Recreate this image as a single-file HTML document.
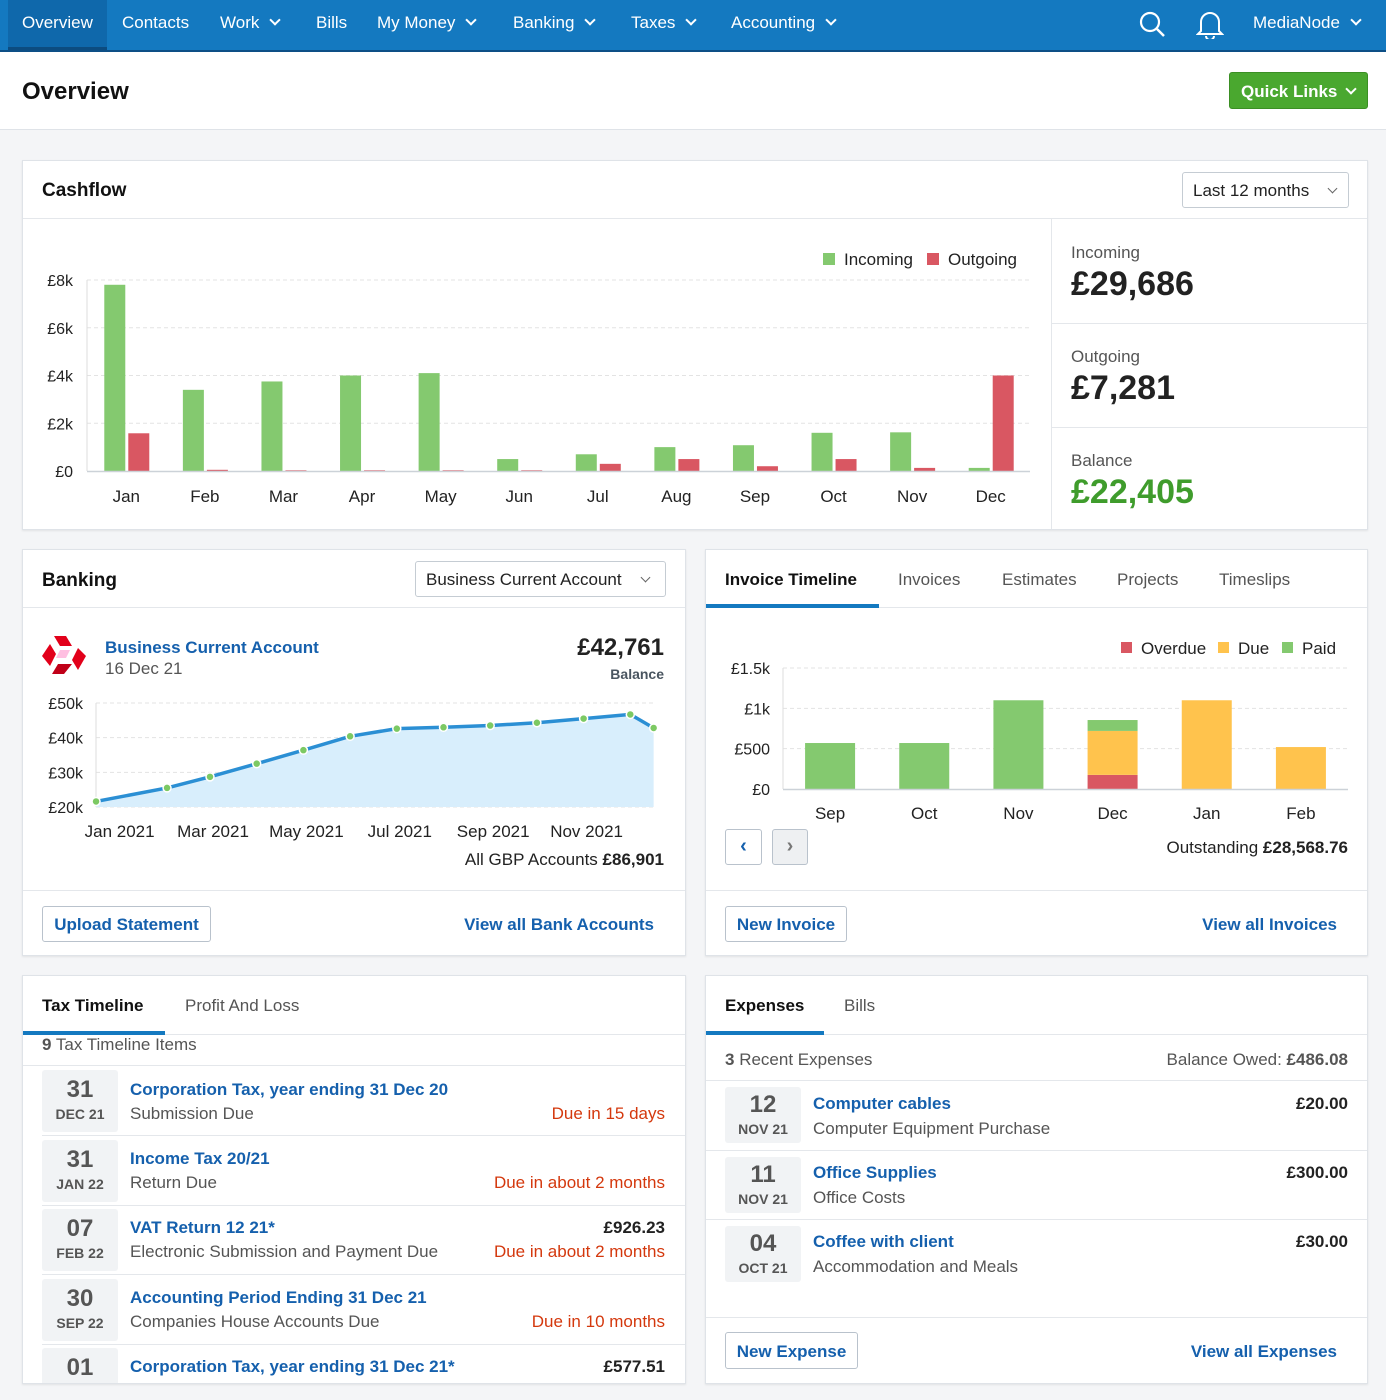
<!DOCTYPE html>
<html><head><meta charset="utf-8">
<style>
*{box-sizing:border-box;margin:0;padding:0}
body{width:1386px;height:1400px;overflow:hidden;background:#f4f5f7;font-family:"Liberation Sans",Arial,sans-serif;color:#222;position:relative}
.a{position:absolute;white-space:nowrap}
.card{position:absolute;background:#fff;border:1px solid #dfe3e8;box-shadow:0 1px 2px rgba(0,0,0,.08);overflow:hidden}
.nav{position:absolute;left:0;top:0;width:1386px;height:52px;background:#1479c0;border-bottom:2px solid #0d4f86}
.nav .i{position:absolute;top:13px;color:#fff;font-size:17px}
.chev{display:inline-block;width:8px;height:8px;border-right:2px solid currentColor;border-bottom:2px solid currentColor;transform:rotate(45deg);margin-left:12px;position:relative;top:-4px}
.t{font-size:17px}
.b{font-weight:bold}
.blue{color:#1560ad}
.grey{color:#555}
.red{color:#d4380d}
.btn{position:absolute;border:1px solid #b9c2cc;border-radius:3px;background:#fff;color:#1560ad;font-weight:bold;font-size:17px;text-align:center}
.line{position:absolute;height:1px;background:#e4e7eb}
.datebox{position:absolute;width:76px;background:#f1f3f5;border-radius:3px;text-align:center;color:#555}
.datebox .d{font-size:24px;font-weight:bold;margin-top:6px}
.datebox .m{font-size:14px;font-weight:bold;margin-top:2px}
</style></head><body>

<div class="nav">
 <div class="a" style="left:8px;top:0;width:99px;height:50px;background:#0f68ab;border-bottom:3px solid #0c4c80"></div>
 <div class="i" style="left:22px">Overview</div>
 <div class="i" style="left:122px">Contacts</div>
 <div class="i" style="left:220px">Work<span class="chev"></span></div>
 <div class="i" style="left:316px">Bills</div>
 <div class="i" style="left:377px">My Money<span class="chev"></span></div>
 <div class="i" style="left:513px">Banking<span class="chev"></span></div>
 <div class="i" style="left:631px">Taxes<span class="chev"></span></div>
 <div class="i" style="left:731px">Accounting<span class="chev"></span></div>
 <svg class="a" style="left:1137px;top:9px" width="30" height="30"><circle cx="13" cy="13" r="9" fill="none" stroke="#fff" stroke-width="2.2"/><line x1="20" y1="20" x2="27" y2="27" stroke="#fff" stroke-width="2.5"/></svg>
 <svg class="a" style="left:1196px;top:9px" width="28" height="30"><path d="M5 22 L5 13 A9 9 0 0 1 23 13 L23 22 L26 25 L2 25 Z" fill="none" stroke="#fff" stroke-width="2"/><path d="M10 27 A4 4 0 0 0 18 27" fill="none" stroke="#fff" stroke-width="2"/></svg>
 <div class="i" style="left:1253px">MediaNode<span class="chev"></span></div>
</div>

<div class="a" style="left:0;top:52px;width:1386px;height:78px;background:#fff;border-bottom:1px solid #dfe3e8"></div>
<div class="a b" style="left:22px;top:78px;font-size:24px;color:#111">Overview</div>
<div class="a b" style="left:1229px;top:72px;width:139px;height:37px;background:#4aa82f;border:1px solid #3b8f24;border-radius:3px;color:#fff;font-size:17px;padding:9px 0 0 11px">Quick Links<span class="chev" style="margin-left:10px"></span></div>

<!-- Cashflow -->
<div class="card" style="left:22px;top:160px;width:1346px;height:370px">
 <div class="a b" style="left:19px;top:19px;font-size:19px;color:#111">Cashflow</div>
 <div class="a" style="left:1159px;top:11px;width:167px;height:36px;border:1px solid #c5ccd3;border-radius:3px;font-size:17px;padding:8px 0 0 10px;color:#222">Last 12 months<span class="chev" style="margin-left:20px;width:7px;height:7px;border-width:1.5px;color:#666"></span></div>
 <div class="line" style="left:0;top:57px;width:1346px"></div>
 <div class="a" style="left:1028px;top:58px;width:1px;height:312px;background:#e4e7eb"></div>
 <div class="line" style="left:1028px;top:162px;width:318px"></div>
 <div class="line" style="left:1028px;top:266px;width:318px"></div>
 <div class="a t grey" style="left:1048px;top:82px">Incoming</div>
 <div class="a b" style="left:1048px;top:104px;font-size:34px;color:#222">£29,686</div>
 <div class="a t grey" style="left:1048px;top:186px">Outgoing</div>
 <div class="a b" style="left:1048px;top:208px;font-size:34px;color:#222">£7,281</div>
 <div class="a t grey" style="left:1048px;top:290px">Balance</div>
 <div class="a b" style="left:1048px;top:312px;font-size:34px;color:#3f9c2c">£22,405</div>
</div>
<svg class="a" id="cf" style="left:0;top:0" width="1050" height="530"></svg>

<!-- Banking -->
<div class="card" style="left:22px;top:549px;width:664px;height:407px">
 <div class="a b" style="left:19px;top:20px;font-size:19px;color:#111">Banking</div>
 <div class="a" style="left:392px;top:11px;width:251px;height:36px;border:1px solid #c5ccd3;border-radius:3px;font-size:17px;padding:8px 0 0 10px">Business Current Account<span class="chev" style="margin-left:20px;width:7px;height:7px;border-width:1.5px;color:#666"></span></div>
 <div class="line" style="left:0;top:57px;width:664px"></div>
 <svg class="a" style="left:19px;top:86px" width="44" height="38"><polygon points="12,0 24,0 30,10 18,10" fill="#e2001a"/><polygon points="0,20 8,8 14,18 8,30" fill="#e2001a"/><polygon points="22,38 10,38 16,28 30,28" fill="#c00018"/><polygon points="44,20 36,34 30,24 36,12" fill="#e2001a"/><polygon points="18,14 28,14 24,22 14,22" fill="#f08" opacity=".25"/></svg>
 <div class="a t b blue" style="left:82px;top:88px">Business Current Account</div>
 <div class="a t grey" style="left:82px;top:109px">16 Dec 21</div>
 <div class="a b" style="right:21px;top:84px;font-size:24px;color:#222">£42,761</div>
 <div class="a b" style="right:21px;top:116px;font-size:14px;color:#4a5560">Balance</div>
 <div class="a t" style="right:21px;top:300px">All GBP Accounts <b>£86,901</b></div>
 <div class="line" style="left:0;top:340px;width:664px"></div>
 <div class="btn" style="left:19px;top:356px;width:169px;height:36px;padding-top:8px">Upload Statement</div>
 <div class="a t b blue" style="right:31px;top:365px">View all Bank Accounts</div>
</div>
<svg class="a" id="bk" style="left:0;top:0" width="700" height="860"></svg>

<!-- Invoice -->
<div class="card" style="left:705px;top:549px;width:663px;height:407px">
 <div class="a t b" style="left:19px;top:20px;color:#111">Invoice Timeline</div>
 <div class="a t grey" style="left:192px;top:20px">Invoices</div>
 <div class="a t grey" style="left:296px;top:20px">Estimates</div>
 <div class="a t grey" style="left:411px;top:20px">Projects</div>
 <div class="a t grey" style="left:513px;top:20px">Timeslips</div>
 <div class="line" style="left:0;top:57px;width:663px"></div>
 <div class="a" style="left:0;top:54px;width:173px;height:4px;background:#1479c0"></div>
 <div class="btn" style="left:19px;top:279px;width:37px;height:36px;font-size:20px;padding-top:5px">‹</div>
 <div class="btn" style="left:66px;top:279px;width:36px;height:36px;font-size:20px;padding-top:5px;background:#eef0f2;color:#777">›</div>
 <div class="a t" style="right:19px;top:288px">Outstanding <b>£28,568.76</b></div>
 <div class="line" style="left:0;top:340px;width:663px"></div>
 <div class="btn" style="left:19px;top:356px;width:122px;height:36px;padding-top:8px">New Invoice</div>
 <div class="a t b blue" style="right:30px;top:365px">View all Invoices</div>
</div>
<svg class="a" id="iv" style="left:0;top:0" width="1386" height="860"></svg>

<!-- Tax timeline -->
<div class="card" style="left:22px;top:975px;width:664px;height:409px">
 <div class="a t b" style="left:19px;top:20px;color:#111">Tax Timeline</div>
 <div class="a t grey" style="left:162px;top:20px">Profit And Loss</div>
 <div class="line" style="left:0;top:58px;width:664px"></div>
 <div class="a" style="left:0;top:55px;width:142px;height:4px;background:#1479c0"></div>
 <div class="a t grey" style="left:19px;top:59px"><b>9</b> Tax Timeline Items</div>
 <div class="line" style="left:0;top:89px;width:664px"></div>

 <div class="datebox" style="left:19px;top:94px;height:62px"><div class="d">31</div><div class="m">DEC 21</div></div>
 <div class="a t b blue" style="left:107px;top:104px">Corporation Tax, year ending 31 Dec 20</div>
 <div class="a t grey" style="left:107px;top:128px">Submission Due</div>
 <div class="a t red" style="right:20px;top:128px">Due in 15 days</div>
 <div class="line" style="left:19px;top:159px;width:645px"></div>

 <div class="datebox" style="left:19px;top:164px;height:62px"><div class="d">31</div><div class="m">JAN 22</div></div>
 <div class="a t b blue" style="left:107px;top:173px">Income Tax 20/21</div>
 <div class="a t grey" style="left:107px;top:197px">Return Due</div>
 <div class="a t red" style="right:20px;top:197px">Due in about 2 months</div>
 <div class="line" style="left:19px;top:229px;width:645px"></div>

 <div class="datebox" style="left:19px;top:233px;height:62px"><div class="d">07</div><div class="m">FEB 22</div></div>
 <div class="a t b blue" style="left:107px;top:242px">VAT Return 12 21*</div>
 <div class="a t b" style="right:20px;top:242px">£926.23</div>
 <div class="a t grey" style="left:107px;top:266px">Electronic Submission and Payment Due</div>
 <div class="a t red" style="right:20px;top:266px">Due in about 2 months</div>
 <div class="line" style="left:19px;top:298px;width:645px"></div>

 <div class="datebox" style="left:19px;top:303px;height:62px"><div class="d">30</div><div class="m">SEP 22</div></div>
 <div class="a t b blue" style="left:107px;top:312px">Accounting Period Ending 31 Dec 21</div>
 <div class="a t grey" style="left:107px;top:336px">Companies House Accounts Due</div>
 <div class="a t red" style="right:20px;top:336px">Due in 10 months</div>
 <div class="line" style="left:19px;top:368px;width:645px"></div>

 <div class="datebox" style="left:19px;top:372px;height:62px"><div class="d">01</div></div>
 <div class="a t b blue" style="left:107px;top:381px">Corporation Tax, year ending 31 Dec 21*</div>
 <div class="a t b" style="right:20px;top:381px">£577.51</div>
</div>

<!-- Expenses -->
<div class="card" style="left:705px;top:975px;width:663px;height:409px">
 <div class="a t b" style="left:19px;top:20px;color:#111">Expenses</div>
 <div class="a t grey" style="left:138px;top:20px">Bills</div>
 <div class="line" style="left:0;top:58px;width:663px"></div>
 <div class="a" style="left:0;top:55px;width:118px;height:4px;background:#1479c0"></div>
 <div class="a t grey" style="left:19px;top:74px"><b>3</b> Recent Expenses</div>
 <div class="a t grey" style="right:19px;top:74px">Balance Owed: <b>£486.08</b></div>
 <div class="line" style="left:0;top:104px;width:663px"></div>

 <div class="datebox" style="left:19px;top:111px;height:56px"><div class="d" style="margin-top:4px">12</div><div class="m">NOV 21</div></div>
 <div class="a t b blue" style="left:107px;top:118px">Computer cables</div>
 <div class="a t b" style="right:19px;top:118px">£20.00</div>
 <div class="a t grey" style="left:107px;top:143px">Computer Equipment Purchase</div>
 <div class="line" style="left:0;top:174px;width:663px"></div>

 <div class="datebox" style="left:19px;top:181px;height:56px"><div class="d" style="margin-top:4px">11</div><div class="m">NOV 21</div></div>
 <div class="a t b blue" style="left:107px;top:187px">Office Supplies</div>
 <div class="a t b" style="right:19px;top:187px">£300.00</div>
 <div class="a t grey" style="left:107px;top:212px">Office Costs</div>
 <div class="line" style="left:0;top:243px;width:663px"></div>

 <div class="datebox" style="left:19px;top:250px;height:56px"><div class="d" style="margin-top:4px">04</div><div class="m">OCT 21</div></div>
 <div class="a t b blue" style="left:107px;top:256px">Coffee with client</div>
 <div class="a t b" style="right:19px;top:256px">£30.00</div>
 <div class="a t grey" style="left:107px;top:281px">Accommodation and Meals</div>
 <div class="line" style="left:0;top:341px;width:663px"></div>

 <div class="btn" style="left:19px;top:356px;width:133px;height:37px;padding-top:9px">New Expense</div>
 <div class="a t b blue" style="right:30px;top:366px">View all Expenses</div>
</div>

<script>
// ---- Cashflow data ----
const cfMonths = ['Jan','Feb','Mar','Apr','May','Jun','Jul','Aug','Sep','Oct','Nov','Dec'];
const cfIncoming = [7800,3400,3750,4000,4100,500,700,1000,1080,1600,1620,130];
const cfOutgoing = [1580,50,30,30,30,30,300,500,200,500,130,4000];
const cfTicks = [0,2000,4000,6000,8000];
const cfTickLabels = ['£0','£2k','£4k','£6k','£8k'];

// ---- Banking balance data ----
const bkMonthPos = [-0.44,1.08,2,3,4,5,6,7,8,9,10,11,11.5];
const bkBalance = [21600,25500,28700,32500,36400,40400,42600,43000,43500,44300,45500,46700,42800];
const bkTicks = [20000,30000,40000,50000];
const bkTickLabels = ['£20k','£30k','£40k','£50k'];
const bkXLabelPos = [0,2,4,6,8,10];
const bkXLabels = ['Jan 2021','Mar 2021','May 2021','Jul 2021','Sep 2021','Nov 2021'];

// ---- Invoice timeline data ----
const ivMonths = ['Sep','Oct','Nov','Dec','Jan','Feb'];
const ivOverdue = [0,0,0,175,0,0];
const ivDue = [0,0,0,545,1100,520];
const ivPaid = [570,570,1100,135,0,0];
const ivTicks = [0,500,1000,1500];
const ivTickLabels = ['£0','£500','£1k','£1.5k'];

const NS='http://www.w3.org/2000/svg';
function mk(svg,tag,attrs,text){const e=document.createElementNS(NS,tag);for(const k in attrs)e.setAttribute(k,attrs[k]);if(text!==undefined)e.textContent=text;svg.appendChild(e);return e;}
const F='Liberation Sans, Arial, sans-serif';

// Cashflow chart
(function(){
 const svg=document.getElementById('cf');
 const x0=87,x1=1030,y0=471,yTop=280;
 const ys=v=>y0-(v/8000)*(y0-yTop);
 const step=(x1-x0)/cfMonths.length;
 const xc=i=>x0+step*(i+0.5);
 cfTicks.forEach((t,i)=>{
  if(t>0){const g=mk(svg,'line',{x1:x0,x2:x1,y1:ys(t),y2:ys(t),stroke:'#e3e3e3','stroke-dasharray':'4,3'});
  
  }
  const l=mk(svg,'text',{x:73,y:ys(t)+6,'text-anchor':'end','font-size':16,'font-family':F,fill:'#222'},cfTickLabels[i]);
  
  
 });
 mk(svg,'line',{x1:x0,x2:x0,y1:yTop,y2:y0,stroke:'#ddd'});
 cfMonths.forEach((m,i)=>{
  const c=xc(i);
  const g=mk(svg,'rect',{x:c-22,y:ys(cfIncoming[i]),width:21,height:y0-ys(cfIncoming[i]),fill:'#84c96f'});
  
  
  const r=mk(svg,'rect',{x:c+2,y:ys(cfOutgoing[i]),width:21,height:y0-ys(cfOutgoing[i]),fill:'#d95762'});
  
  
  const t=mk(svg,'text',{x:c,y:502,'text-anchor':'middle','font-size':17,'font-family':F,fill:'#222'},m);
  
  
 });
 mk(svg,'line',{x1:x0,x2:x1,y1:y0+0.5,y2:y0+0.5,stroke:'#ccd2d8','stroke-width':1.5});
 mk(svg,'rect',{x:823,y:253,width:12,height:12,fill:'#84c96f'});
 const l1=mk(svg,'text',{x:844,y:265,'font-size':17,'font-family':F,fill:'#222'},'Incoming');
 
 
 mk(svg,'rect',{x:927,y:253,width:12,height:12,fill:'#d95762'});
 const l2=mk(svg,'text',{x:948,y:265,'font-size':17,'font-family':F,fill:'#222'},'Outgoing');
 
 
})();

// Banking chart
(function(){
 const svg=document.getElementById('bk');
 const x0=96,x1=654,y0=807,yTop=703;
 const ys=v=>y0-((v-20000)/30000)*(y0-yTop);
 const xs=m=>116.6+m*46.7;
 bkTicks.forEach((t,i)=>{
  mk(svg,'line',{x1:x0,x2:x1,y1:ys(t),y2:ys(t),stroke:'#e3e3e3','stroke-dasharray':'4,3'});
  const l=mk(svg,'text',{x:83,y:ys(t)+6,'text-anchor':'end','font-size':16,'font-family':F,fill:'#222'},bkTickLabels[i]);
  
  
 });
 mk(svg,'line',{x1:x0,x2:x0,y1:yTop,y2:y0,stroke:'#ddd'});
 let d='';
 bkMonthPos.forEach((m,i)=>{d+=(i?'L':'M')+xs(m)+' '+ys(bkBalance[i]);});
 const area=mk(svg,'path',{d:d+'L'+xs(bkMonthPos[bkMonthPos.length-1])+' '+y0+'L'+xs(bkMonthPos[0])+' '+y0+'Z',fill:'#d8eefc'});
 
 
 const ln=mk(svg,'path',{d:d,fill:'none',stroke:'#2b8fd4','stroke-width':3.5});
 
 
 bkMonthPos.forEach((m,i)=>{
  const p=mk(svg,'circle',{cx:xs(m),cy:ys(bkBalance[i]),r:4,fill:'#7cc963',stroke:'#fff','stroke-width':1.5});
  
  
 });
 bkXLabelPos.forEach((m,i)=>{
  const t=mk(svg,'text',{x:xs(m)+3,y:837,'text-anchor':'middle','font-size':17,'font-family':F,fill:'#222'},bkXLabels[i]);
  
  
 });
})();

// Invoice chart
(function(){
 const svg=document.getElementById('iv');
 const x0=783,x1=1348,y0=789,yTop=668;
 const ys=v=>y0-(v/1500)*(y0-yTop);
 const step=(x1-x0)/ivMonths.length;
 const xc=i=>x0+step*(i+0.5);
 ivTicks.forEach((t,i)=>{
  if(t>0)mk(svg,'line',{x1:x0,x2:x1,y1:ys(t),y2:ys(t),stroke:'#e3e3e3','stroke-dasharray':'4,3'});
  const l=mk(svg,'text',{x:770,y:ys(t)+6,'text-anchor':'end','font-size':16,'font-family':F,fill:'#222'},ivTickLabels[i]);
  
  
 });
 mk(svg,'line',{x1:x0,x2:x0,y1:yTop,y2:y0,stroke:'#ddd'});
 ivMonths.forEach((m,i)=>{
  const c=xc(i);let base=0;
  [[ivOverdue,'#d95762','overdue'],[ivDue,'#ffc34d','due'],[ivPaid,'#84c96f','paid']].forEach(s=>{
   const v=s[0][i];if(v>0){
    const r=mk(svg,'rect',{x:c-25,y:ys(base+v),width:50,height:ys(base)-ys(base+v),fill:s[1]});
    
    
   }base+=v;});
  const t=mk(svg,'text',{x:c,y:819,'text-anchor':'middle','font-size':17,'font-family':F,fill:'#222'},m);
  
  
 });
 mk(svg,'line',{x1:x0,x2:x1,y1:y0+0.5,y2:y0+0.5,stroke:'#ccd2d8','stroke-width':1.5});
 [['Overdue','#d95762',1121],['Due','#ffc34d',1218],['Paid','#84c96f',1282]].forEach(l=>{
  mk(svg,'rect',{x:l[2],y:642,width:11,height:11,fill:l[1]});
  const t=mk(svg,'text',{x:l[2]+20,y:654,'font-size':17,'font-family':F,fill:'#222'},l[0]);
  
  
 });
})();
</script>
</body></html>
